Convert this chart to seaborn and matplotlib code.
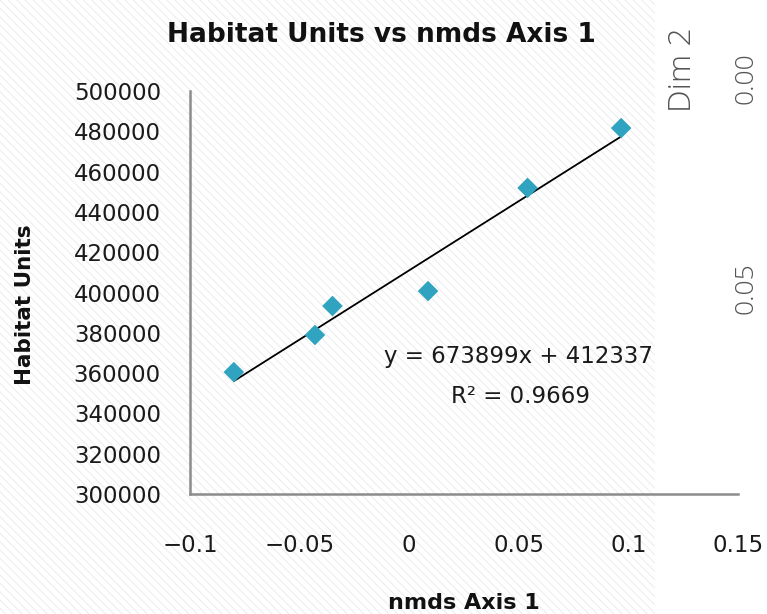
import matplotlib
matplotlib.use("Agg")
import matplotlib.pyplot as plt
import seaborn as sns
import pandas as pd
from matplotlib.patches import Rectangle

# data
nmds_axis1 = [-0.080, -0.043, -0.035, 0.0086, 0.054, 0.0967]
habitat_units = [360500, 378900, 393300, 400700, 451900, 481600]

x_ticks = [-0.1, -0.05, 0, 0.05, 0.1, 0.15]
x_tick_labels = ["\u22120.1", "\u22120.05", "0", "0.05", "0.1", "0.15"]
y_ticks = [300000, 320000, 340000, 360000, 380000, 400000,
           420000, 440000, 460000, 480000, 500000]

equation = "y = 673899x + 412337"
r_squared = "R\u00b2 = 0.9669"

df = pd.DataFrame({"nmds Axis 1": nmds_axis1, "Habitat Units": habitat_units})

sns.set_style("white")
plt.rcParams["font.family"] = ["DejaVu Sans"]
plt.rcParams["hatch.linewidth"] = 0.7

fig = plt.figure(figsize=(7.67, 6.14), dpi=100)
fig.patch.set_facecolor("white")
fig.patch.set_edgecolor("#ececec")
fig.patch.set_linewidth(0)
fig.patch.set_hatch("\\\\\\\\")

# plain white strip on the right (chart behind this one)
fig.add_artist(Rectangle((655 / 767, 0), 1, 1, transform=fig.transFigure,
                         facecolor="white", edgecolor="none", zorder=-1))

ax = fig.add_axes([190 / 767, 1 - 494 / 614, (738 - 190) / 767, (494 - 91) / 614])
ax.patch.set_alpha(0)

sns.regplot(data=df, x="nmds Axis 1", y="Habitat Units", ax=ax, scatter=False,
            ci=None, truncate=True, color="black", line_kws={"linewidth": 1.3})
sns.scatterplot(data=df, x="nmds Axis 1", y="Habitat Units", ax=ax, marker="D",
                s=110, color="#2fa3bf", edgecolor="none", zorder=3)

ax.set_xlim(-0.1, 0.15)
ax.set_ylim(300000, 500000)
ax.set_xticks(x_ticks)
ax.set_xticklabels(x_tick_labels)
ax.set_yticks(y_ticks)
ax.set_yticklabels([str(v) for v in y_ticks])
ax.tick_params(axis="x", length=0, pad=29, labelsize=16.5, colors="#1a1a1a")
ax.tick_params(axis="y", length=0, pad=21, labelsize=16.5, colors="#1a1a1a")

for side in ["top", "right"]:
    ax.spines[side].set_visible(False)
for side in ["left", "bottom"]:
    ax.spines[side].set_color("#8c8c8c")
    ax.spines[side].set_linewidth(1.8)

ax.set_xlabel("")
ax.set_ylabel("")
fig.text(464 / 767, 1 - 603 / 614, "nmds Axis 1", ha="center", va="center",
         fontsize=16, fontweight="bold", color="#111111")
fig.text(25 / 767, 1 - 305 / 614, "Habitat Units", ha="center", va="center",
         rotation=90, fontsize=15.5, fontweight="bold", color="#111111")
fig.text(381 / 767, 1 - 35 / 614, "Habitat Units vs nmds Axis 1", ha="center",
         va="center", fontsize=19, fontweight="bold", color="#111111")

ax.text(0.0497, 368000, equation, ha="center", va="center", fontsize=16.5,
        color="#1a1a1a")
ax.text(0.0506, 348600, r_squared, ha="center", va="center", fontsize=16.5,
        color="#1a1a1a")

# labels of the neighbouring chart
side_font = ["Open Sans", "DejaVu Sans"]
fig.text(683 / 767, 1 - 70 / 614, "Dim 2", ha="center", va="center",
         rotation=90, fontsize=23, color="#555555", fontweight="light",
         family=side_font)
fig.text(746 / 767, 1 - 78 / 614, "0.00", ha="center", va="center",
         rotation=90, fontsize=19, color="#555555", fontweight="light",
         family=side_font)
fig.text(746 / 767, 1 - 288 / 614, "0.05", ha="center", va="center",
         rotation=90, fontsize=19, color="#555555", fontweight="light",
         family=side_font)

plt.savefig("out.png", dpi=100, facecolor=fig.get_facecolor())
